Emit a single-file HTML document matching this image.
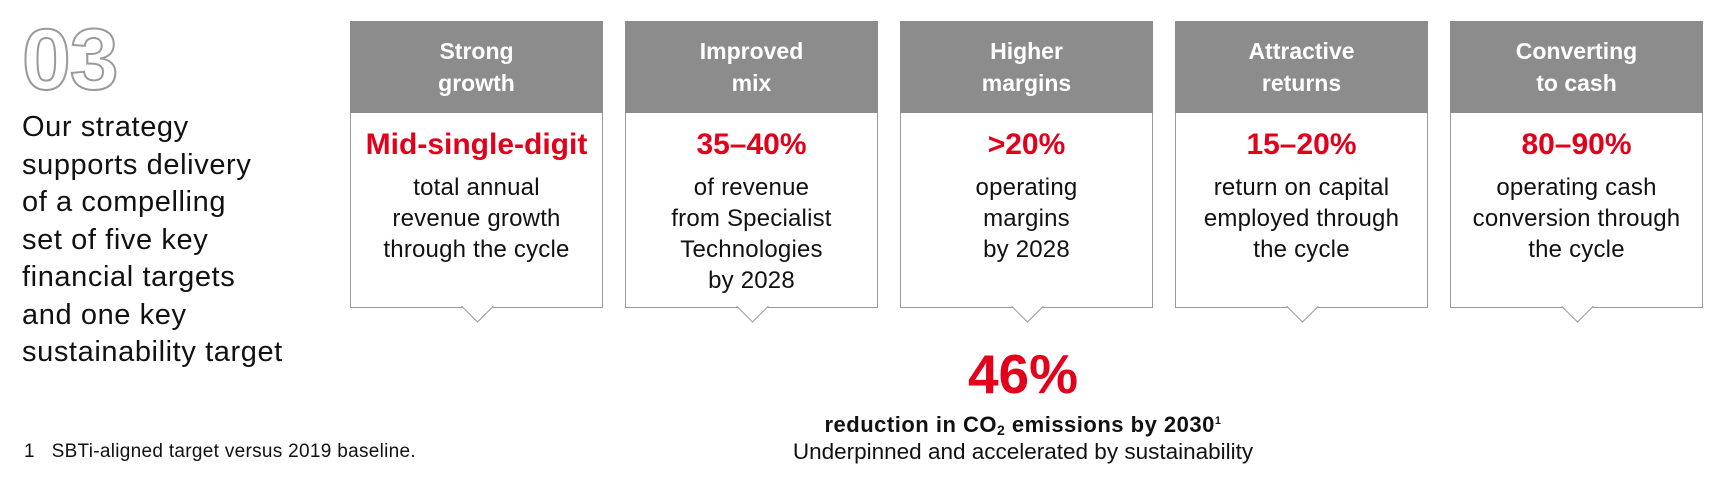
<!DOCTYPE html>
<html><head><meta charset="utf-8"><style>
body{margin:0;width:1725px;height:483px;background:#fff;font-family:"Liberation Sans",sans-serif;position:relative;overflow:hidden;color:#111}
.n{position:absolute;left:22px;top:14px;font-size:86px;font-weight:bold;color:#fff;-webkit-text-stroke:2px #9a9a9a;letter-spacing:-1px;transform:scaleX(1.02);transform-origin:left top;line-height:92px}
.lt{position:absolute;left:22px;top:109px;font-size:29px;line-height:37.5px;color:#111;letter-spacing:0.6px}
.card{position:absolute;top:21px;width:251px;height:286px;border:1px solid #9a9a9a;border-top:none;background:#fff;text-align:center}
.hd{height:92px;background:#8c8c8c;color:#fff;font-weight:bold;font-size:23px;line-height:32px;padding-top:14px;box-sizing:border-box;margin:0 -1px;}
.red{color:#e2001a;font-weight:bold;font-size:30px;margin-top:14px;line-height:36px}
.bd{font-size:24px;line-height:31px;margin-top:9px;letter-spacing:0.2px}
.ar{position:absolute;left:50%;bottom:-11px;width:22px;height:22px;margin-left:-11px;background:#fff;border-right:1px solid #9a9a9a;border-bottom:1px solid #9a9a9a;transform:rotate(45deg)}
</style></head><body>
<div class="n">03</div>
<div class="lt">Our strategy<br>supports delivery<br>of a compelling<br>set of five key<br>financial targets<br>and one key<br>sustainability target</div>

<div class="card" style="left:350px"><div class="hd">Strong<br>growth</div><div class="red">Mid-single-digit</div><div class="bd">total annual<br>revenue growth<br>through the cycle</div><div class="ar"></div></div>
<div class="card" style="left:625px"><div class="hd">Improved<br>mix</div><div class="red">35–40%</div><div class="bd">of revenue<br>from Specialist<br>Technologies<br>by 2028</div><div class="ar"></div></div>
<div class="card" style="left:900px"><div class="hd">Higher<br>margins</div><div class="red">&gt;20%</div><div class="bd">operating<br>margins<br>by 2028</div><div class="ar"></div></div>
<div class="card" style="left:1175px"><div class="hd">Attractive<br>returns</div><div class="red">15–20%</div><div class="bd">return on capital<br>employed through<br>the cycle</div><div class="ar"></div></div>
<div class="card" style="left:1450px"><div class="hd">Converting<br>to cash</div><div class="red">80–90%</div><div class="bd">operating cash<br>conversion through<br>the cycle</div><div class="ar"></div></div>

<div style="position:absolute;left:723px;width:600px;top:343px;text-align:center;color:#e2001a;font-weight:bold;font-size:55px;line-height:62px">46%</div>
<div style="position:absolute;left:723px;width:600px;top:408px;text-align:center;font-weight:bold;font-size:22px;line-height:26px;letter-spacing:0.5px">reduction in CO<sub style="font-size:14px;vertical-align:-3px">2</sub> emissions by 2030<sup style="font-size:11px;vertical-align:8px">1</sup></div>
<div style="position:absolute;left:723px;width:600px;top:438px;text-align:center;font-size:22.5px;line-height:28px">Underpinned and accelerated by sustainability</div>
<div style="position:absolute;left:24px;top:441px;font-size:19px;line-height:22px;letter-spacing:0.3px">1&nbsp;&nbsp;&nbsp;SBTi-aligned target versus 2019 baseline.</div>
</body></html>
